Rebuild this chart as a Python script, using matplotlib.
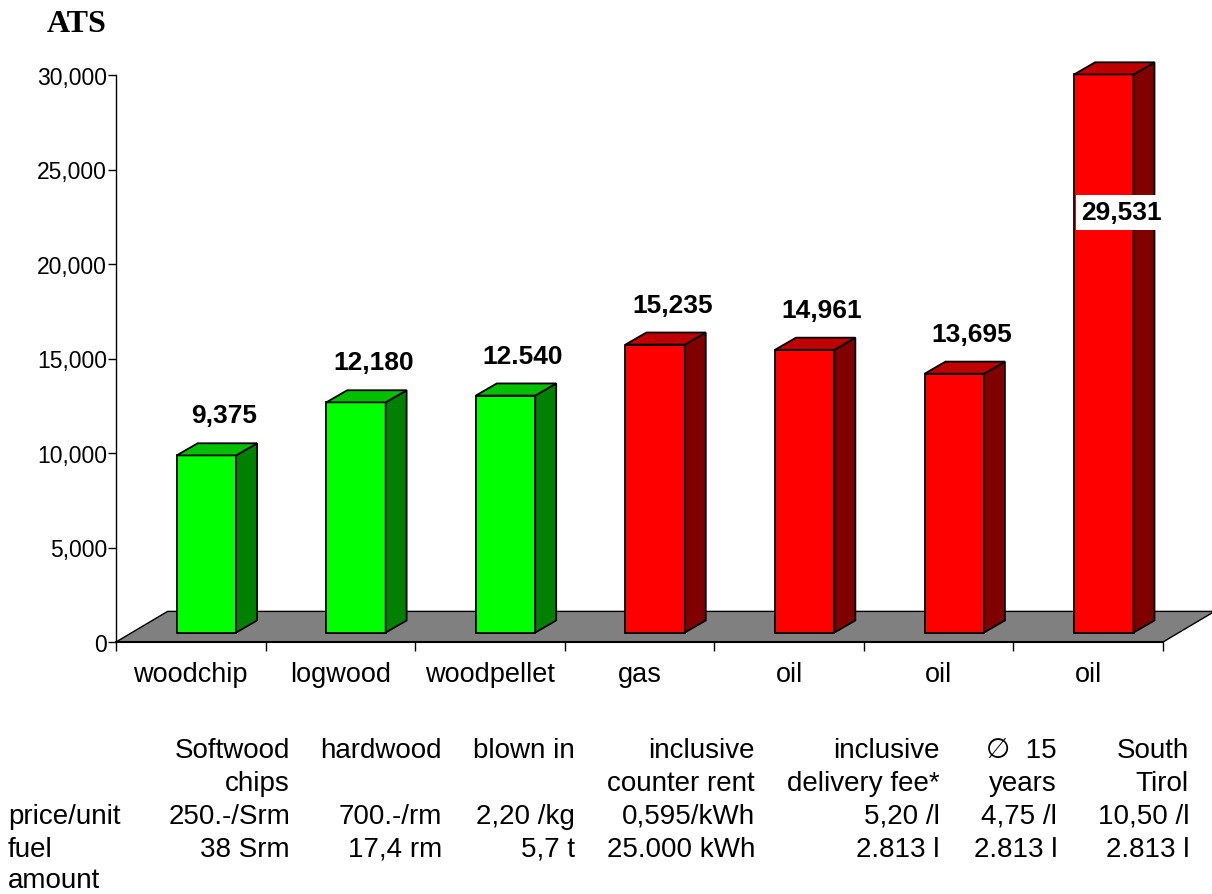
import matplotlib.pyplot as plt
from matplotlib.patches import Polygon
from matplotlib.ticker import FuncFormatter

plt.rcParams['font.family'] = ['Liberation Sans', 'DejaVu Sans']

# annual heating costs in ATS
categories = ['woodchip', 'logwood', 'woodpellet', 'gas', 'oil', 'oil', 'oil']
costs = [9375, 12180, 12540, 15235, 14961, 13695, 29531]
cost_labels = ['9,375', '12,180', '12.540', '15,235', '14,961', '13,695', '29,531']
is_biomass = [True, True, True, False, False, False, False]

# table under the chart
head_line1 = ['Softwood', 'hardwood', 'blown in', 'inclusive', 'inclusive', '\u2205  15', 'South']
head_line2 = ['chips', '', '', 'counter rent', 'delivery fee*', 'years', 'Tirol']
price_unit = ['250.-/Srm', '700.-/rm', '2,20 /kg', '0,595/kWh', '5,20 /l', '4,75 /l', '10,50 /l']
fuel_amount = ['38 Srm', '17,4 rm', '5,7 t', '25.000 kWh', '2.813 l', '2.813 l', '2.813 l']

W, H = 1212, 895
fig = plt.figure(figsize=(W / 100, H / 100), dpi=100)
ax = fig.add_axes([116 / W, (H - 643) / H, (1163 - 116) / W, (643 - 76) / H])
ax.set_xlim(0, len(categories))
ax.set_ylim(0, 30000)

# oblique "3d" offsets in data units
floor_dx, floor_dy = 0.345, 1620
bar_x0, bar_w = 0.406, 0.397
bar_base = 500
depth_dx, depth_dy = 0.14, 640

n = len(categories)
floor = Polygon([(0, 0), (n, 0), (n + floor_dx, floor_dy), (floor_dx, floor_dy)],
                closed=True, facecolor='#808080', edgecolor='black', lw=1.0,
                clip_on=False, zorder=1)
ax.add_patch(floor)

for i, (v, bio) in enumerate(zip(costs, is_biomass)):
    front_c, top_c, side_c = ('#00ff00', '#00c000', '#008000') if bio else ('#ff0000', '#c00000', '#800000')
    x0 = i + bar_x0
    x1 = x0 + bar_w
    y0 = bar_base
    y1 = bar_base + v
    kw = dict(closed=True, edgecolor='black', lw=1.3, clip_on=False, zorder=3, joinstyle='miter')
    ax.add_patch(Polygon([(x0, y0), (x1, y0), (x1, y1), (x0, y1)], facecolor=front_c, **kw))
    ax.add_patch(Polygon([(x1, y0), (x1 + depth_dx, y0 + depth_dy),
                          (x1 + depth_dx, y1 + depth_dy), (x1, y1)], facecolor=side_c, **kw))
    ax.add_patch(Polygon([(x0, y1), (x1, y1), (x1 + depth_dx, y1 + depth_dy),
                          (x0 + depth_dx, y1 + depth_dy)], facecolor=top_c, **kw))

    lx = i + 0.72
    if y1 + 1740 > 29000:
        # no room above the tallest bar: put the label inside it
        ax.text(lx, 0.77 * v, cost_labels[i], ha='center', va='center', fontsize=19,
                fontweight='bold', zorder=5,
                bbox=dict(boxstyle='square,pad=0.2', fc='white', ec='none'))
    else:
        ax.text(lx, y1 + 1740, cost_labels[i], ha='center', va='baseline', fontsize=19,
                fontweight='bold', zorder=5)

# axes styling
for side in ['top', 'right']:
    ax.spines[side].set_visible(False)
ax.spines['left'].set_linewidth(1.0)
ax.spines['bottom'].set_linewidth(1.5)
ax.spines['left'].set_bounds(0, 30000)

ax.set_yticks(range(0, 30001, 5000))
ax.yaxis.set_major_formatter(FuncFormatter(lambda v, p: f'{int(v):,}'))
ax.tick_params(axis='y', direction='out', length=6, width=1, pad=0.5, labelsize=16.5)

ax.set_xticks(range(n + 1))
ax.set_xticklabels([])
ax.set_xticks([i + 0.5 for i in range(n)], minor=True)
ax.set_xticklabels(categories, minor=True, fontsize=19.5)
ax.tick_params(axis='x', which='major', direction='out', length=6.5, width=1)
ax.tick_params(axis='x', which='minor', length=0, pad=14)

fig.text(47 / W, 1 - 32 / H, 'ATS', family='Liberation Serif', fontweight='bold',
         fontsize=23, va='baseline', ha='left')

# table text
col_right = [290, 442, 575, 755, 940, 1057, 1189]
row_base = [758, 791, 824, 857, 888]
tfs = 20
for c, xr in enumerate(col_right):
    for r, txt in enumerate([head_line1[c], head_line2[c], price_unit[c], fuel_amount[c]]):
        if txt:
            fig.text(xr / W, 1 - row_base[r] / H, txt, ha='right', va='baseline', fontsize=tfs)
for r, txt in zip([2, 3, 4], ['price/unit', 'fuel', 'amount']):
    fig.text(8 / W, 1 - row_base[r] / H, txt, ha='left', va='baseline', fontsize=tfs)

fig.savefig('out.png', dpi=100)
